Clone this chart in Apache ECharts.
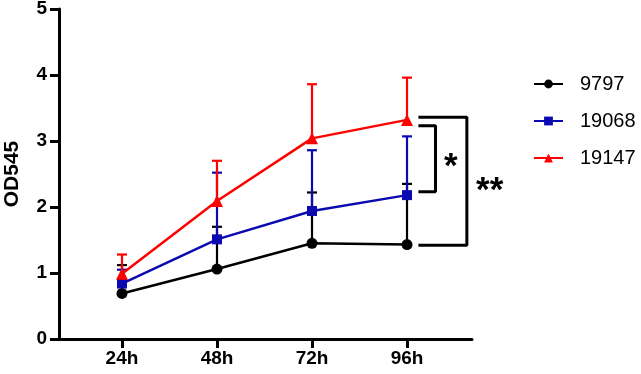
<!DOCTYPE html>
<html>
<head>
<meta charset="utf-8">
<script src="https://cdn.jsdelivr.net/npm/echarts@6/dist/echarts.min.js"></script>
<style>
  html, body { margin: 0; padding: 0; background: #fff; }
  #main { width: 641px; height: 374px; }
</style>
</head>
<body>
<div id="main"></div>
<script>
// time points
var categories = ['24h', '48h', '72h', '96h'];
var seriesNames = ['9797', '19068', '19147'];
// mean OD545
var mean9797 = [0.69, 1.06, 1.45, 1.43];
var mean19068 = [0.84, 1.51, 1.94, 2.18];
var mean19147 = [0.99, 2.09, 3.04, 3.32];
// upper end of error bar
var upper9797 = [1.12, 1.70, 2.22, 2.35];
var upper19068 = [1.05, 2.52, 2.86, 3.07];
var upper19147 = [1.28, 2.70, 3.86, 3.96];
var yTicks = [0, 1, 2, 3, 4, 5];
// significance brackets (x in category units, y in OD545)
var bracketInner = [[4.12, 3.23], [4.30, 3.23], [4.30, 2.23], [4.12, 2.23]];
var bracketOuter = [[4.12, 3.36], [4.63, 3.36], [4.63, 1.42], [4.12, 1.42]];
var starLabels = [[4.46, 2.73, '*'], [4.87, 2.38, '**']];

var colors = ['#000000', '#0a0ab0', '#ff0000'];
var symbols = ['circle', 'rect', 'triangle'];
var means = [mean9797, mean19068, mean19147];
var uppers = [upper9797, upper19068, upper19147];

var chart = echarts.init(document.getElementById('main'));
var font = "'Liberation Sans', Arial, sans-serif";

function toPairs(arr) {
  return arr.map(function (v, i) { return [i + 1, v]; });
}

var series = [];

// error bars (upper only)
[0, 1, 2].forEach(function (k) {
  series.push({
    type: 'custom',
    name: seriesNames[k] + '_err',
    z: 1,
    data: means[k].map(function (v, i) { return [i + 1, v, uppers[k][i]]; }),
    renderItem: function (params, api) {
      var low = api.coord([api.value(0), api.value(1)]);
      var high = api.coord([api.value(0), api.value(2)]);
      var hw = 5;
      var st = { stroke: colors[k], lineWidth: 2.2 };
      return {
        type: 'group',
        children: [
          { type: 'line', shape: { x1: low[0], y1: low[1], x2: high[0], y2: high[1] }, style: st },
          { type: 'line', shape: { x1: high[0] - hw, y1: high[1], x2: high[0] + hw, y2: high[1] }, style: st }
        ]
      };
    }
  });
});

[0, 1, 2].forEach(function (k) {
  series.push({
    type: 'line',
    name: seriesNames[k],
    z: 3,
    data: toPairs(means[k]),
    symbol: symbols[k],
    symbolSize: k === 2 ? 12 : (k === 1 ? 10 : 11),
    showAllSymbol: true,
    lineStyle: { color: colors[k], width: 2.5 },
    itemStyle: { color: colors[k] },
    emphasis: { disabled: true },
    clip: false
  });
});

[bracketInner, bracketOuter].forEach(function (b) {
  series.push({
    type: 'line',
    data: b,
    symbol: 'none',
    lineStyle: { color: '#000', width: 3 },
    clip: false,
    silent: true
  });
});

// significance stars
series.push({
  type: 'custom',
  data: starLabels,
  clip: false,
  silent: true,
  renderItem: function (params, api) {
    var p = api.coord([api.value(0), api.value(1)]);
    return {
      type: 'text',
      x: p[0],
      y: p[1] + 9,
      style: {
        text: starLabels[params.dataIndex][2],
        fill: '#000',
        font: 'bold 35px ' + font,
        align: 'center',
        verticalAlign: 'middle'
      }
    };
  }
});

var option = {
  backgroundColor: '#fff',
  animation: false,
  grid: { left: 59, right: 169, top: 9, bottom: 35, containLabel: false, outerBoundsMode: 'none' },
  legend: {
    data: seriesNames,
    orient: 'vertical',
    left: 528,
    top: 69,
    itemWidth: 29,
    itemHeight: 11,
    itemGap: 17,
    textStyle: { fontFamily: font, fontSize: 20, color: '#000', padding: [0, 0, 0, 12] }
  },
  xAxis: {
    type: 'value',
    min: 0.337,
    max: 4.684,
    splitLine: { show: false },
    axisLine: { show: true, onZero: false, lineStyle: { color: '#000', width: 3 } },
    axisTick: { show: true, customValues: [1, 2, 3, 4], length: 9, lineStyle: { color: '#000', width: 3 } },
    axisLabel: {
      customValues: [1, 2, 3, 4],
      formatter: function (v) { return categories[Math.round(v) - 1]; },
      fontFamily: font, fontSize: 19, fontWeight: 'bold', color: '#000', margin: 10
    }
  },
  yAxis: {
    type: 'value',
    min: 0,
    max: 5,
    interval: 1,
    name: 'OD545',
    nameLocation: 'middle',
    nameGap: 36,
    nameTextStyle: { fontFamily: font, fontSize: 21, fontWeight: 'bold', color: '#000' },
    splitLine: { show: false },
    axisLine: { show: true, lineStyle: { color: '#000', width: 3 } },
    axisTick: { show: true, length: 9, lineStyle: { color: '#000', width: 3 } },
    axisLabel: {
      formatter: function (v) { return yTicks.indexOf(v) >= 0 ? String(v) : ''; },
      fontFamily: font, fontSize: 19, fontWeight: 'bold', color: '#000', margin: 12
    }
  },
  series: series
};

chart.setOption(option);
</script>
</body>
</html>
